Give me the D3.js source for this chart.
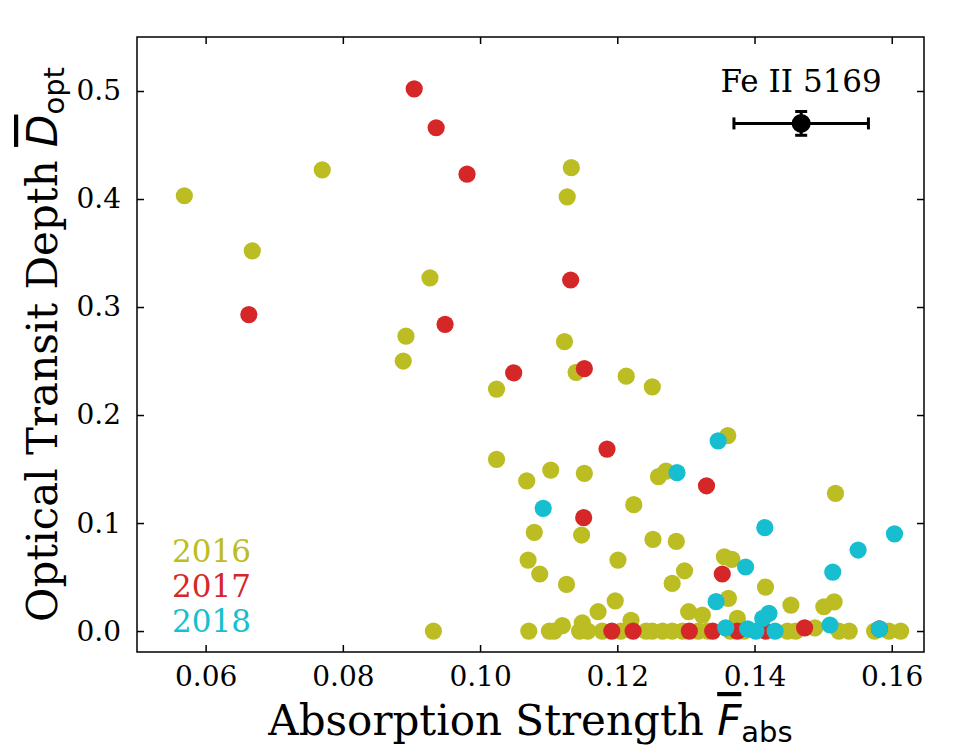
<!DOCTYPE html>
<html>
<head>
<meta charset="utf-8">
<script src="https://cdn.jsdelivr.net/npm/d3@7"></script>
<style>
    body { margin: 0; background: #fff; }
    text { font-family: 'DejaVu Serif', serif; fill: #000; }
</style>
</head>
<body>
<div id="container"></div>
<script>
// [F_abs, D_opt] per year
var years = ['2016', '2017', '2018'];
var colors = ['#bcbd22', '#d62728', '#17becf'];

var data2016 = [
    [0.0569, 0.403], [0.0668, 0.352], [0.0770, 0.427], [0.0927, 0.327], [0.0892, 0.273],
    [0.0888, 0.250], [0.1133, 0.429], [0.1127, 0.402], [0.1123, 0.268], [0.1140, 0.2395],
    [0.1024, 0.224], [0.1213, 0.236], [0.1251, 0.226], [0.1361, 0.181], [0.1024, 0.159],
    [0.1103, 0.149], [0.1068, 0.139], [0.1152, 0.146], [0.1260, 0.143], [0.1271, 0.148],
    [0.1224, 0.117], [0.1518, 0.1275], [0.1079, 0.0914], [0.1148, 0.0889], [0.1252, 0.0849],
    [0.1286, 0.083], [0.1070, 0.0657], [0.1087, 0.0528], [0.1201, 0.0657], [0.1126, 0.0432],
    [0.1298, 0.0558], [0.1280, 0.0441], [0.1356, 0.0688], [0.1367, 0.0664], [0.1416, 0.0407],
    [0.1362, 0.0303], [0.1453, 0.024], [0.1501, 0.0225], [0.1516, 0.027], [0.1197, 0.028],
    [0.1172, 0.0179], [0.1149, 0.0077], [0.1120, 0.005], [0.1220, 0.010], [0.1304, 0.0179],
    [0.1324, 0.0148], [0.1375, 0.0117], [0.0932, 0], [0.1071, 0], [0.1101, 0],
    [0.1108, 0], [0.1145, 0], [0.1157, 0], [0.1178, 0], [0.1205, 0],
    [0.1242, 0], [0.1251, 0], [0.1266, 0], [0.1280, 0], [0.1295, 0],
    [0.1318, 0], [0.1332, 0], [0.1365, 0], [0.1385, 0], [0.1448, 0],
    [0.1460, 0], [0.1488, 0.003], [0.1523, 0], [0.1538, 0], [0.1575, 0],
    [0.1596, 0], [0.1613, 0]
];

var data2017 = [
    [0.0663, 0.293], [0.0904, 0.502], [0.0936, 0.466], [0.0981, 0.423], [0.0949, 0.284],
    [0.1049, 0.239], [0.1132, 0.325], [0.1152, 0.243], [0.1185, 0.1685], [0.1330, 0.1345],
    [0.1151, 0.105], [0.1353, 0.0528], [0.1192, 0], [0.1223, 0], [0.1305, 0],
    [0.1339, 0], [0.1375, 0], [0.1416, 0], [0.1473, 0.003], [0.1582, 0.002]
];

var data2018 = [
    [0.1347, 0.176], [0.1287, 0.1466], [0.1092, 0.1136], [0.1415, 0.0957], [0.1604, 0.090],
    [0.1551, 0.075], [0.1514, 0.0546], [0.1387, 0.0593], [0.1344, 0.0272], [0.1421, 0.0164],
    [0.1412, 0.0117], [0.1358, 0.003], [0.1390, 0.002], [0.1402, 0], [0.1430, 0],
    [0.1510, 0.0056], [0.1582, 0.002]
];

var xTicks = [0.06, 0.08, 0.10, 0.12, 0.14, 0.16];
var yTicks = [0.0, 0.1, 0.2, 0.3, 0.4, 0.5];

// typical uncertainty shown in the corner
var refLabel = 'Fe II 5169';
var refPoint = [0.1468, 0.470];
var refErr = [0.0098, 0.011];

var width = 975,
    height = 750,
    margin = { left: 137, right: 51, top: 37, bottom: 98 };
var w = width - margin.left - margin.right,
    h = height - margin.top - margin.bottom;

var svg = d3.select('#container')
    .append('svg')
    .attr('width', width)
    .attr('height', height);
var g = svg.append('g')
    .attr('transform', 'translate(' + margin.left + ',' + margin.top + ')');

var x = d3.scaleLinear().domain([0.05, 0.1647]).range([0, w]);
var y = d3.scaleLinear().domain([-0.0194, 0.55]).range([h, 0]);

// points, drawn year by year so later years sit on top
var series = [data2016, data2017, data2018];
series.forEach(function(pts, i) {
    g.append('g')
        .selectAll('circle')
        .data(pts)
        .enter()
        .append('circle')
        .attr('cx', function(d) { return x(d[0]); })
        .attr('cy', function(d) { return y(d[1]); })
        .attr('r', 8.6)
        .style('fill', colors[i]);
});

// axes with inward ticks on all four sides
function styleAxis(sel) {
    sel.select('.domain').remove();
    sel.selectAll('.tick line').attr('stroke', '#000').attr('stroke-width', 1.5);
    sel.selectAll('.tick text').style('font-family', 'DejaVu Serif').style('font-size', '28px');
}
g.append('g')
    .attr('transform', 'translate(0,' + h + ')')
    .call(d3.axisBottom(x).tickValues(xTicks).tickFormat(d3.format('.2f')).tickSizeInner(-7).tickPadding(14))
    .call(styleAxis);
g.append('g')
    .call(d3.axisTop(x).tickValues(xTicks).tickFormat('').tickSizeInner(-7))
    .call(styleAxis);
g.append('g')
    .call(d3.axisLeft(y).tickValues(yTicks).tickFormat(d3.format('.1f')).tickSizeInner(-7).tickPadding(16))
    .call(styleAxis);
g.append('g')
    .attr('transform', 'translate(' + w + ',0)')
    .call(d3.axisRight(y).tickValues(yTicks).tickFormat('').tickSizeInner(-7))
    .call(styleAxis);

g.append('rect')
    .attr('width', w)
    .attr('height', h)
    .attr('fill', 'none')
    .attr('stroke', '#000')
    .attr('stroke-width', 1.5);

// error bar for reference
var eb = g.append('g').attr('stroke', '#000').attr('stroke-width', 3);
eb.append('line')
    .attr('x1', x(refPoint[0] - refErr[0])).attr('x2', x(refPoint[0] + refErr[0]))
    .attr('y1', y(refPoint[1])).attr('y2', y(refPoint[1]));
eb.append('line')
    .attr('x1', x(refPoint[0])).attr('x2', x(refPoint[0]))
    .attr('y1', y(refPoint[1] - refErr[1])).attr('y2', y(refPoint[1] + refErr[1]));
[-1, 1].forEach(function(s) {
    eb.append('line')
        .attr('x1', x(refPoint[0] + s * refErr[0])).attr('x2', x(refPoint[0] + s * refErr[0]))
        .attr('y1', y(refPoint[1]) - 6).attr('y2', y(refPoint[1]) + 6);
    eb.append('line')
        .attr('x1', x(refPoint[0]) - 6).attr('x2', x(refPoint[0]) + 6)
        .attr('y1', y(refPoint[1] + s * refErr[1])).attr('y2', y(refPoint[1] + s * refErr[1]));
});
g.append('circle')
    .attr('cx', x(refPoint[0]))
    .attr('cy', y(refPoint[1]))
    .attr('r', 9.5)
    .style('fill', '#000');
g.append('text')
    .attr('x', x(refPoint[0]))
    .attr('y', y(refPoint[1]) - 31)
    .attr('text-anchor', 'middle')
    .style('font-size', '31px')
    .text(refLabel);

// year legend as coloured text
g.selectAll('.year')
    .data(years)
    .enter()
    .append('text')
    .attr('class', 'year')
    .attr('x', 35)
    .attr('y', function(d, i) { return 525 + i * 35; })
    .style('font-size', '31px')
    .style('fill', function(d, i) { return colors[i]; })
    .text(function(d) { return d; });

// axis labels
var xl = svg.append('text')
    .attr('x', margin.left + w / 2)
    .attr('y', 735)
    .attr('text-anchor', 'middle')
    .style('font-size', '42px');
xl.append('tspan').text('Absorption Strength ');
xl.append('tspan')
    .style('font-family', 'DejaVu Sans')
    .style('font-style', 'oblique')
    .style('text-decoration', 'overline')
    .text('F');
xl.append('tspan')
    .style('font-family', 'DejaVu Sans')
    .style('font-size', '29px')
    .attr('dy', 7)
    .text('abs');

var yl = svg.append('text')
    .attr('transform', 'translate(57,' + (margin.top + h / 2) + ') rotate(-90)')
    .attr('text-anchor', 'middle')
    .style('font-size', '42px');
yl.append('tspan').text('Optical Transit Depth ');
yl.append('tspan')
    .style('font-family', 'DejaVu Sans')
    .style('font-style', 'oblique')
    .style('text-decoration', 'overline')
    .text('D');
yl.append('tspan')
    .style('font-family', 'DejaVu Sans')
    .style('font-size', '29px')
    .attr('dy', 7)
    .text('opt');
</script>
</body>
</html>
